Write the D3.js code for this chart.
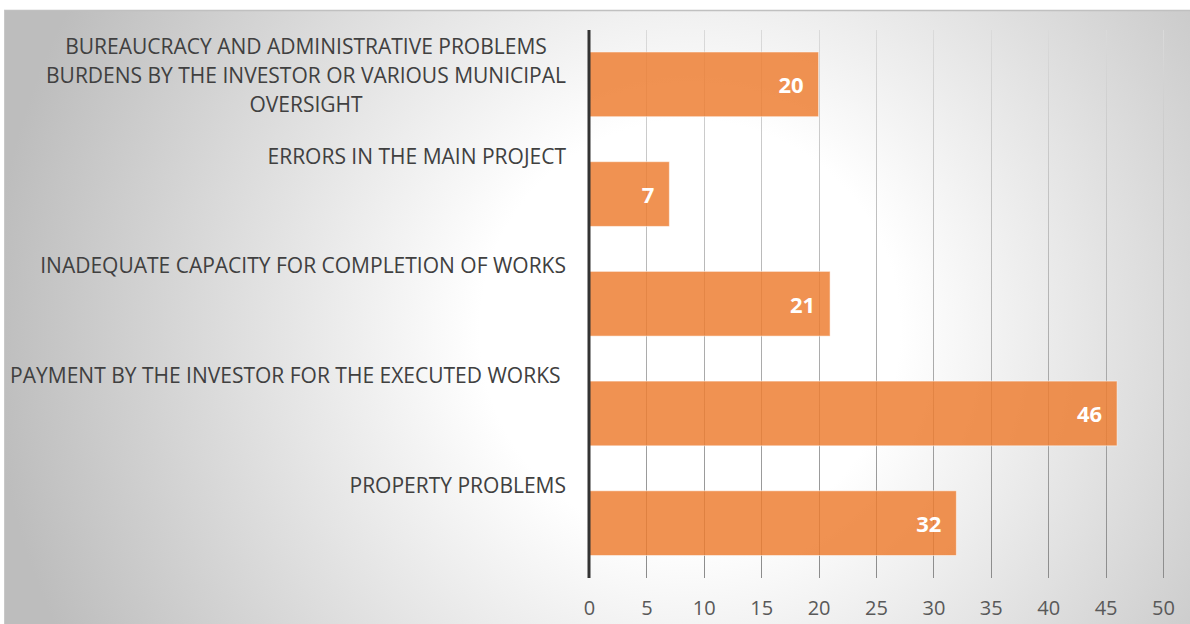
<!DOCTYPE html>
<html><head><meta charset="utf-8">
<script src="https://cdn.jsdelivr.net/npm/d3@7"></script>
<style>html,body{margin:0;padding:0;background:#fff;overflow:hidden}</style>
</head><body>
<svg id="chart" width="1190" height="624"></svg>
<script>
const categories = [
  ["BUREAUCRACY AND ADMINISTRATIVE PROBLEMS", "BURDENS BY THE INVESTOR OR VARIOUS MUNICIPAL", "OVERSIGHT"],
  ["ERRORS IN THE MAIN PROJECT"],
  ["INADEQUATE CAPACITY FOR COMPLETION OF WORKS"],
  ["PAYMENT BY THE INVESTOR FOR THE EXECUTED WORKS\u00a0"],
  ["PROPERTY PROBLEMS"]
];
const values = [20, 7, 21, 46, 32];
const tickValues = [0, 5, 10, 15, 20, 25, 30, 35, 40, 45, 50];

const svg = d3.select("#chart");
const W = 1190, H = 624;
const font = "'Open Sans', sans-serif";

const defs = svg.append("defs");
const rg = defs.append("radialGradient").attr("id", "bg")
  .attr("gradientUnits", "userSpaceOnUse")
  .attr("cx", 690).attr("cy", 330).attr("r", 700);
rg.append("stop").attr("offset", "0%").attr("stop-color", "#ffffff");
rg.append("stop").attr("offset", "30%").attr("stop-color", "#ffffff");
rg.append("stop").attr("offset", "100%").attr("stop-color", "#bdbdbd");

const gg = defs.append("linearGradient").attr("id", "grid")
  .attr("gradientUnits", "userSpaceOnUse")
  .attr("x1", 0).attr("y1", 30).attr("x2", 0).attr("y2", 578);
gg.append("stop").attr("offset", "0%").attr("stop-color", "#dadada");
gg.append("stop").attr("offset", "100%").attr("stop-color", "#8c8c8c");

// chart area background + border
svg.append("rect").attr("x", 4).attr("y", 10).attr("width", W).attr("height", H)
  .attr("fill", "url(#bg)");
svg.append("line").attr("x1", 4).attr("x2", W).attr("y1", 10.5).attr("y2", 10.5)
  .attr("stroke", "#c0c0c0").attr("stroke-width", 1.5);
svg.append("line").attr("x1", 4.5).attr("x2", 4.5).attr("y1", 10).attr("y2", H)
  .attr("stroke", "#c8c8c8").attr("stroke-width", 1);

const x = d3.scaleLinear().domain([0, 50]).range([589, 1163]);
const y = d3.scaleBand().domain(d3.range(values.length)).range([29.5, 578])
  .paddingInner(0.41).paddingOuter(0.205);

// gridlines
svg.append("g").selectAll("line").data(tickValues.slice(1)).join("line")
  .attr("x1", d => Math.round(x(d)) + 0.5).attr("x2", d => Math.round(x(d)) + 0.5)
  .attr("y1", 30).attr("y2", 578)
  .attr("stroke", "url(#grid)").attr("stroke-width", 1);

// bars
svg.append("g").selectAll("rect").data(values).join("rect")
  .attr("x", x(0)).attr("y", (d, i) => y(i))
  .attr("width", d => x(d) - x(0)).attr("height", y.bandwidth())
  .attr("fill", "#ED7D31").attr("fill-opacity", 0.84)
  .attr("stroke", "#ffffff").attr("stroke-opacity", 0.5).attr("stroke-width", 1);

// value labels
svg.append("g").selectAll("text").data(values).join("text")
  .attr("x", d => x(d) - 15).attr("y", (d, i) => y(i) + y.bandwidth() / 2)
  .attr("text-anchor", "end").attr("dominant-baseline", "central")
  .attr("font-family", font).attr("font-weight", "bold").attr("font-size", 22)
  .attr("fill", "#ffffff").text(d => d);

// axis line
svg.append("line").attr("x1", x(0)).attr("x2", x(0)).attr("y1", 30).attr("y2", 578)
  .attr("stroke", "#333333").attr("stroke-width", 3);

// x tick labels
const xAxis = d3.axisBottom(x).tickValues(tickValues).tickSize(0).tickPadding(0);
const gx = svg.append("g").attr("transform", "translate(0,598)").call(xAxis);
gx.select(".domain").remove();
gx.selectAll("text").attr("font-family", font).attr("font-size", 20)
  .attr("fill", "#595959").attr("dy", "0.35em").attr("y", 10);

// category labels
const lineH = 29;
const lab = svg.append("g");
categories.forEach((lines, i) => {
  const top = y(i) + y.bandwidth() / 2 - 38.5;
  const t = lab.append("text").attr("font-family", font).attr("font-size", 21)
    .attr("fill", "#404040").attr("dominant-baseline", "central")
    .style("white-space", "pre");
  lines.forEach((ln, j) => {
    t.append("tspan").attr("x", 0).attr("y", top + j * lineH).text(ln);
  });
  // block right edge at 566, lines centered within block
  const widths = [];
  t.selectAll("tspan").each(function () { widths.push(this.getComputedTextLength()); });
  const bw = d3.max(widths);
  const cx = 566 - bw / 2;
  t.selectAll("tspan").attr("x", cx).attr("text-anchor", "middle");
});
</script>
</body></html>
